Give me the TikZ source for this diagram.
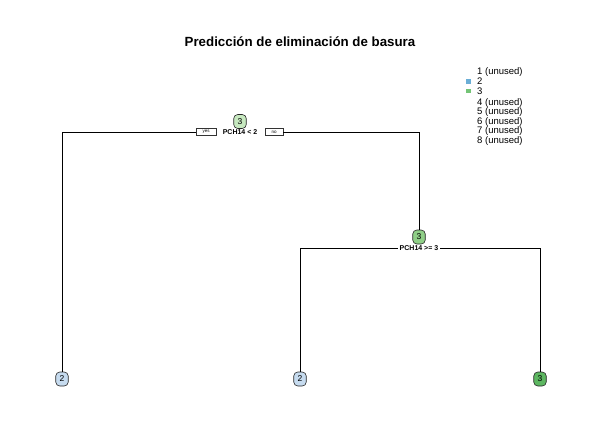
\documentclass[tikz,border=0pt]{standalone}
\usepackage{fontspec}
\setmainfont{Liberation Sans}
\usetikzlibrary{positioning}

\definecolor{leafblue}{HTML}{C6DBEF}
\definecolor{lightgreen}{HTML}{C7E9C0}
\definecolor{midgreen}{HTML}{8FCF87}
\definecolor{darkgreen}{HTML}{5DB761}
\definecolor{keyblue}{HTML}{6BAED6}
\definecolor{keygreen}{HTML}{74C476}

\begin{document}
\begin{tikzpicture}[x=1pt,y=-1pt]
  \useasboundingbox (0,0) rectangle (601,422);
  \begin{scope}[
    every node/.style={
      inner sep=0pt,
    },
    treenode/.style={
      rectangle,
      rounded corners=4pt,
      draw=black!85,
      line width=0.6pt,
      minimum width=12.5pt,
      minimum height=14pt,
      font=\fontsize{8.5}{9}\selectfont,
    },
    splitlabel/.style={
      font=\bfseries\fontsize{7}{8}\selectfont,
    },
    yesno/.style={
      rectangle,
      draw=black!80,
      minimum height=7pt,
      font=\fontsize{4.5}{5}\selectfont,
    },
    keytext/.style={
      anchor=west,
      font=\fontsize{9.5}{10}\selectfont,
    },
    ]
    % title
    \node [font=\bfseries\fontsize{13.3}{15}\selectfont] (title) at (300,42)
      {Predicción de eliminación de basura};

    % node 1
    \node [treenode,fill=lightgreen] (N1) at (240,121.5) {3};
    \node [splitlabel] (S1) at (240,132) {PCH14 < 2};
    \node [yesno,minimum width=20pt] (yes1) at (206,132) {yes};
    \node [yesno,minimum width=18pt] (no1) at (274,132) {no};

    % node 3
    \node [treenode,fill=midgreen] (N3) at (419,237) {3};
    \node [splitlabel,fill=white,inner xsep=2pt] (S3) at (419,248) {PCH14 >= 3};

    % leaves
    \node [treenode,fill=leafblue] (L2) at (62,379) {2};
    \node [treenode,fill=leafblue] (L6) at (300,379) {2};
    \node [treenode,fill=darkgreen] (L7) at (540,379) {3};

    % legend
    \node [keytext] (k1) at (477,72) {1 (unused)};
    \node [keytext] (k2) at (477,81.5) {2};
    \node [keytext] (k3) at (477,91) {3};
    \node [keytext] (k4) at (477,103) {4 (unused)};
    \node [keytext] (k5) at (477,112.5) {5 (unused)};
    \node [keytext] (k6) at (477,122) {6 (unused)};
    \node [keytext] (k7) at (477,131.5) {7 (unused)};
    \node [keytext] (k8) at (477,141) {8 (unused)};
    \node [fill=keyblue,minimum size=4.5pt,left=6pt of k2.west] (b2) {};
    \node [fill=keygreen,minimum size=4.5pt,left=6pt of k3.west] (b3) {};
  \end{scope}
  \begin{scope}[
    branch/.style={
      draw=black,
      line width=0.7pt,
    },
    ]
    % from node 1
    \draw [branch] (yes1.west) -| (L2.north);
    \draw [branch] (no1.east) -| (N3.north);

    % from node 3
    \draw [branch] (S3.west) -| (L6.north);
    \draw [branch] (S3.east) -| (L7.north);
  \end{scope}
\end{tikzpicture}
\end{document}
